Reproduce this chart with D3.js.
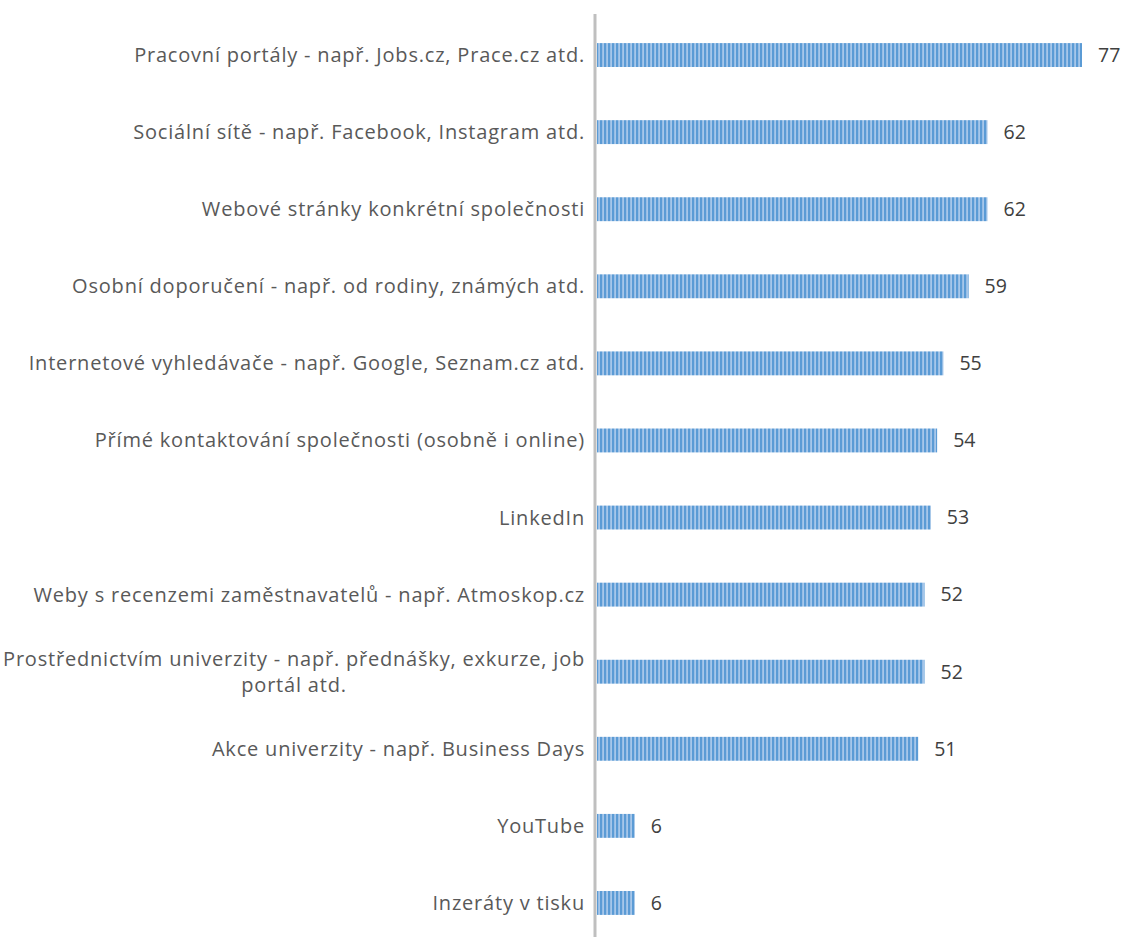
<!DOCTYPE html>
<html><head><meta charset="utf-8">
<script src="https://cdn.jsdelivr.net/npm/d3@7"></script>
<style>body{margin:0;background:#fff}svg{display:block}</style>
</head><body>
<svg id="c" width="1123" height="937"></svg>
<script>
const categories = [
  ["Pracovní portály - např. Jobs.cz, Prace.cz atd."],
  ["Sociální sítě - např. Facebook, Instagram atd."],
  ["Webové stránky konkrétní společnosti"],
  ["Osobní doporučení - např. od rodiny, známých atd."],
  ["Internetové vyhledávače - např. Google, Seznam.cz atd."],
  ["Přímé kontaktování společnosti (osobně i online)"],
  ["LinkedIn"],
  ["Weby s recenzemi zaměstnavatelů - např. Atmoskop.cz"],
  ["Prostřednictvím univerzity - např. přednášky, exkurze, job", "portál atd."],
  ["Akce univerzity - např. Business Days"],
  ["YouTube"],
  ["Inzeráty v tisku"]
];
const values = [77, 62, 62, 59, 55, 54, 53, 52, 52, 51, 6, 6];

const svg = d3.select("#c");
const x0 = 597, yTop = 16.5, yBot = 941.5;
const x = d3.scaleLinear().domain([0, 77]).range([x0, 1082]);
const y = d3.scaleBand().domain(d3.range(values.length)).range([yTop, yBot]).paddingInner(0.69).paddingOuter(0.345);

const defs = svg.append("defs");
const pat = defs.append("pattern").attr("id","stripes").attr("patternUnits","userSpaceOnUse")
  .attr("width",4).attr("height",10);
pat.append("rect").attr("width",4).attr("height",10).attr("fill","#a7c7ea");
pat.append("rect").attr("width",2.2).attr("height",10).attr("fill","#5b9bd5");

const font = "'Open Sans', sans-serif";
const labCol = "#595959";
const valCol = "#404040";
const fs = 20;

svg.append("g").selectAll("rect").data(values).join("rect")
  .attr("x", x(0)).attr("y", (d,i)=>y(i)).attr("width", d=>x(d)-x(0)).attr("height", y.bandwidth())
  .attr("fill","url(#stripes)");

svg.append("g").selectAll("text").data(values).join("text")
  .attr("x", d=>x(d)+16).attr("y", (d,i)=>y(i)+y.bandwidth()/2).attr("dy","0.35em")
  .attr("font-family", font).attr("font-size", 19.5).attr("fill", valCol).text(d=>d);

// category labels
const lab = svg.append("g");
categories.forEach((lines, i) => {
  const cy = y(i) + y.bandwidth()/2;
  const g = lab.append("g");
  const ts = lines.map((t, k) => g.append("text")
    .attr("font-family", font).attr("font-size", fs).attr("fill", labCol)
    .attr("letter-spacing", 0.8)
    .attr("y", cy + (k - (lines.length-1)/2) * 26).attr("dy","0.35em").text(t));
  const widths = ts.map(t => t.node().getComputedTextLength());
  const maxW = Math.max(...widths);
  const right = 585;
  const center = right - maxW/2;
  ts.forEach(t => t.attr("x", center).attr("text-anchor","middle"));
});

// axis line
svg.append("line").attr("x1",595).attr("x2",595).attr("y1",14).attr("y2",937)
  .attr("stroke","#bfbfbf").attr("stroke-width",3);
</script>
</body></html>
